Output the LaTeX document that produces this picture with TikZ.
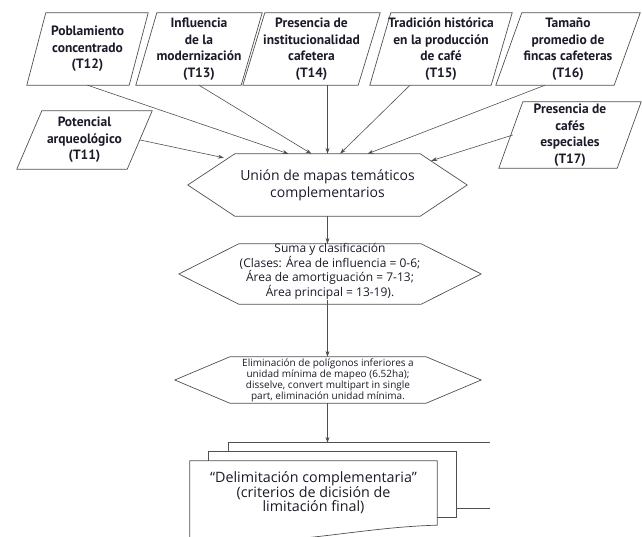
\documentclass[tikz,border=0pt]{standalone}
\usepackage{fontspec}
\setmainfont{PT Sans}
\newfontfamily\stepfont{Open Sans}
\usetikzlibrary{arrows.meta}
\definecolor{ink}{RGB}{28,26,40}
\definecolor{edge}{RGB}{80,80,80}
\tikzset{
  shapebox/.style={inner sep=0pt, align=center, text=ink},
  termbox/.style={shapebox, font=\bfseries\fontsize{13.5}{16.5}\selectfont},
  outline/.style={draw=edge, line width=0.7pt, line join=miter},
  link/.style={draw=edge, line width=0.6pt, -{Stealth[length=6pt,width=4pt]}},
}
% parallelogram drawn inside the rectangle of a named node
\newcommand{\slantbox}[2]{\path[outline] ([xshift=#2]#1.north west) -- (#1.north east) -- ([xshift=-#2]#1.south east) -- (#1.south west) -- cycle;}
% flat hexagon drawn inside the rectangle of a named node
\newcommand{\hexbox}[2]{\path[outline] ([xshift=#2]#1.north west) -- ([xshift=-#2]#1.north east) -- (#1.east) -- ([xshift=-#2]#1.south east) -- ([xshift=#2]#1.south west) -- (#1.west) -- cycle;}
\begin{document}
\begin{tikzpicture}[x=1pt, y=-1pt]
\useasboundingbox (0,0) rectangle (642,537);

% thematic layers
\node[termbox, minimum width=121pt, minimum height=72pt] (t12) at (87.5,49) {Poblamiento\\concentrado\\(T12)};
\node[termbox, minimum width=126pt, minimum height=72pt] (t13) at (199,49) {Influencia\\de la\\modernización\\(T13)};
\node[termbox, minimum width=137pt, minimum height=72pt] (t14) at (311.5,49) {Presencia de\\institucionalidad\\cafetera\\(T14)};
\node[termbox, minimum width=142pt, minimum height=72pt] (t15) at (441,49) {Tradición histórica\\en la producción\\de café\\(T15)};
\node[termbox, minimum width=144pt, minimum height=72pt] (t16) at (568,49) {Tamaño\\promedio de\\fincas cafeteras\\(T16)};
\node[termbox, minimum width=135pt, minimum height=58pt] (t11) at (84.5,140) {Potencial\\arqueológico\\(T11)};
\node[termbox, minimum width=142pt, minimum height=66pt] (t17) at (570,135) {Presencia de\\cafés\\especiales\\(T17)};
\slantbox{t12}{19pt}
\slantbox{t13}{21pt}
\slantbox{t14}{22pt}
\slantbox{t15}{21pt}
\slantbox{t16}{26pt}
\slantbox{t11}{25pt}
\slantbox{t17}{24pt}

% processing steps
\node[shapebox, font=\stepfont\fontsize{14}{17}\selectfont, minimum width=279pt, minimum height=62pt] (hex1) at (327.5,185) {Unión de mapas temáticos\\complementarios};
\node[shapebox, minimum width=302pt, minimum height=60pt] (hex2) at (330,274) {};
\node[shapebox, font=\stepfont\fontsize{12}{10.8}\selectfont] (hex2text) at ([yshift=2.5pt]hex2.center) {Suma y clasificación\\(Clases: Área de influencia = 0-6;\\Área de amortiguación = 7-13;\\Área principal = 13-19).};
\node[shapebox, font=\stepfont\fontsize{10}{11}\selectfont, minimum width=306pt, minimum height=46pt] (hex3) at (328,380) {Eliminación de polígonos inferiores a\\unidad mínima de mapeo (6.52ha);\\disselve, convert multipart in single\\part, eliminación unidad mínima.};
\hexbox{hex1}{47pt}
\hexbox{hex2}{60pt}
\hexbox{hex3}{55pt}

% stacked output document
\node[minimum width=261pt, minimum height=65pt, inner sep=0pt] (back) at (359.5,475.5) {};
\node[minimum width=247pt, minimum height=65pt, inner sep=0pt] (mid) at (332.5,484.5) {};
\node[shapebox, font=\stepfont\fontsize{14.3}{14.5}\selectfont, minimum width=247pt, minimum height=64pt] (front) at (313.5,493) {“Delimitación complementaria”\\(criterios de dicisión de\\limitación final)};
\path[outline] (back.west |- mid.north) -- (back.north west) -- (back.north east);
\path[outline] (mid.east |- back.south) -- (back.south east);
\path[outline] (mid.west |- front.north) -- (mid.north west) -- (mid.north east) -- (mid.south east) -- (front.east |- mid.south);
\path[outline] ([yshift=-16pt]front.south west) -- (front.north west) -- (front.north east) -- (front.south east)
  .. controls ([xshift=-80pt,yshift=-2pt]front.south east) and ([xshift=100pt,yshift=-22pt]front.south west) .. ([yshift=-16pt]front.south west);

% connectors
\draw[link] (t12.south) -- ([xshift=-39pt]hex1.north);
\draw[link] (t13.south) -- ([xshift=-16pt]hex1.north);
\draw[link] ([xshift=16pt]t14.south) -- (hex1.north);
\draw[link] ([xshift=-31pt]t15.south) -- ([xshift=12.5pt]hex1.north);
\draw[link] ([xshift=-23pt]t16.south) -- ([xshift=40pt]hex1.north);
\draw[link] ([xshift=-12pt]t11.east) -- ([xshift=36pt,yshift=-4pt]hex1.north west);
\draw[link] ([xshift=14pt]t17.west) -- ([xshift=-36pt,yshift=-7pt]hex1.north east);
\draw[link] (hex1.south) -- (hex1.south |- hex2.north);
\draw[link] (hex1.south |- hex2text.south) -- (hex1.south |- hex3.north);
\draw[link] (hex1.south |- hex3.south) -- (hex1.south |- back.north);
\end{tikzpicture}
\end{document}
